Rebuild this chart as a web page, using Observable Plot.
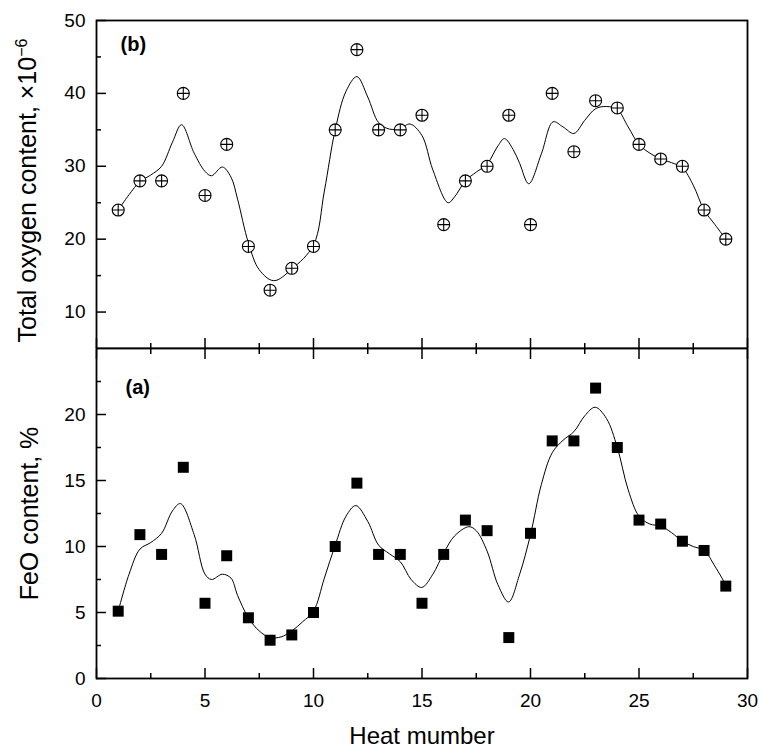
<!DOCTYPE html>
<html><head><meta charset="utf-8">
<script src="https://cdn.jsdelivr.net/npm/d3@7"></script>
<script src="https://cdn.jsdelivr.net/npm/@observablehq/plot@0.6"></script>
<style>
body{margin:0;background:#fff;}
#chart{position:relative;width:760px;height:749px;background:#fff;}
#chart svg{position:absolute;left:0;display:block;overflow:visible;}
</style></head><body><div id="chart"></div>
<script>
// ---- data ----
const heat = [1,2,3,4,5,6,7,8,9,10,11,12,13,14,15,16,17,18,19,20,21,22,23,24,25,26,27,28,29];
const oxygen = [24,28,28,40,26,33,19,13,16,19,35,46,35,35,37,22,28,30,37,22,40,32,39,38,33,31,30,24,20];
const feo = [5.1,10.9,9.4,16,5.7,9.3,4.6,2.9,3.3,5,10,14.8,9.4,9.4,5.7,9.4,12,11.2,3.1,11,18,18,22,17.5,12,11.7,10.4,9.7,7];

const oxCurveX = [1,1.5,2,2.5,3,3.5,3.92,4.5,5,5.3,5.8,6.2,6.5,7,7.5,8.17,9,10,10.5,11,11.5,12,12.5,13,13.5,14,14.45,15,15.5,16.2,16.5,17,17.5,18,18.5,18.8,19.2,19.5,19.92,20.5,21.04,21.5,22,22.5,23,23.5,24,24.5,25,25.5,26,26.5,27,27.5,28,28.5,29];
const oxCurveY = [24,26.1,27.9,28.8,30,33.3,35.7,31.8,29.3,28.7,29.9,28.5,25.5,19.5,15.8,14.3,15.9,19.2,26.6,35,40.3,42.3,39.5,36,35.1,35.2,35.8,34.2,29.5,25,25.8,28,29.2,30.3,32.8,33.8,32.3,30.4,27.6,31.7,36.1,35.4,34.5,36.3,37.9,38.2,37.8,35.4,33,31.8,31,30.5,29.8,27.4,24,22,20];

const feoCurveX = [1,1.5,2,2.5,3,3.5,3.87,4.5,5,5.3,5.8,6.2,6.5,7,7.5,8,8.5,9,9.5,10,10.5,11,11.5,11.95,12.5,13,13.5,14,14.5,14.99,15.5,16,16.5,17.16,17.5,18,18.5,18.99,19.5,20,20.5,21,21.5,22,22.5,22.98,23.5,24,24.5,25,25.5,26,26.5,27,27.5,28,28.5,29];
const feoCurveY = [5.1,7.9,9.8,10.3,11,12.7,13.25,10.9,7.9,7.5,7.9,7.6,6.3,4.6,3.6,3.1,3.15,3.6,4.3,5.1,7.6,10.1,12.3,13.1,11.9,10.1,9.45,8.85,7.5,6.9,7.9,9.5,10.8,11.5,11.2,9.65,7.1,5.8,7.9,10.9,14.7,17.1,18.05,18.7,19.9,20.55,19.7,17.5,14.3,12.3,11.7,11.55,11.05,10.4,10,9.7,8.5,7.1];

const xTicks = [0,5,10,15,20,25,30];
const xMinor = [2.5,7.5,12.5,17.5,22.5,27.5];
const oxTicks = [10,20,30,40,50];
const oxMinor = [15,25,35,45];
const feoTicks = [0,5,10,15,20];
const feoMinor = [2.5,7.5,12.5,17.5,22.5];

const oxLabel = "Total oxygen content, ×10";
const oxLabelSup = "−6";
const feoLabel = "FeO content, %";
const xLabel = "Heat mumber";

// ---- build ----
const oxPts = heat.map((h,i)=>({x:h,y:oxygen[i]}));
const feoPts = heat.map((h,i)=>({x:h,y:feo[i]}));
const oxLine = oxCurveX.map((x,i)=>({x, y:oxCurveY[i]}));
const feoLine = feoCurveX.map((x,i)=>({x, y:feoCurveY[i]}));

const circlePlus = {draw(ctx, size){
  const r = Math.sqrt(size/Math.PI);
  ctx.moveTo(r,0); ctx.arc(0,0,r,0,2*Math.PI);
  ctx.moveTo(-r,0); ctx.lineTo(r,0);
  ctx.moveTo(0,-r); ctx.lineTo(0,r);
}};

const fontFamily = "'Liberation Sans',Arial,sans-serif";
const style = {fontFamily, fontSize:"19px", color:"black", background:"white", overflow:"visible"};
const W = 760, ML = 96, MR = 13;

const topPlot = Plot.plot({
  width: W, height: 348, marginTop: 20, marginBottom: 0, marginLeft: ML, marginRight: MR,
  x: {domain:[0,30], label:null}, y: {domain:[5,50], label:null},
  style,
  marks: [
    Plot.axisY(oxTicks, {tickSize:-10, text:null, strokeWidth:1.5, label:null}),
    Plot.axisY(oxTicks, {tickSize:0, tickPadding:11, label:null, fontSize:19}),
    Plot.axisY(oxMinor, {tickSize:-5, text:null, strokeWidth:1.5, label:null}),
    Plot.axisX(xTicks, {anchor:"bottom", tickSize:-10, text:null, strokeWidth:1.5, label:null}),
    Plot.axisX(xMinor, {anchor:"bottom", tickSize:-5, text:null, strokeWidth:1.5, label:null}),
    Plot.line(oxLine, {x:"x", y:"y", curve:"catmull-rom", stroke:"black", strokeWidth:1}),
    Plot.dot(oxPts, {x:"x", y:"y", symbol: circlePlus, r:6, stroke:"black", fill:"white", strokeWidth:1.1}),
    Plot.frame({stroke:"black", strokeWidth:1.8}),
    Plot.text(["(b)"], {frameAnchor:"top-left", dx:24, dy:24, text:d=>d, fontWeight:"bold", fontSize:20, textAnchor:"start", lineAnchor:"middle"}),
    Plot.text([oxLabel], {frameAnchor:"left", dx:-69, dy:6, rotate:-90, text:d=>d, fontSize:25, textAnchor:"middle", lineAnchor:"middle"})
  ]
});

const botPlot = Plot.plot({
  width: W, height: 401, marginTop: 0, marginBottom: 71, marginLeft: ML, marginRight: MR,
  x: {domain:[0,30], label:null}, y: {domain:[0,25], label:null},
  style,
  marks: [
    Plot.axisY(feoTicks, {tickSize:-10, text:null, strokeWidth:1.5, label:null}),
    Plot.axisY(feoTicks, {tickSize:0, tickPadding:11, label:null, fontSize:19}),
    Plot.axisY(feoMinor, {tickSize:-5, text:null, strokeWidth:1.5, label:null}),
    Plot.axisX(xTicks, {anchor:"top", tickSize:-10, text:null, strokeWidth:1.5, label:null}),
    Plot.axisX(xMinor, {anchor:"top", tickSize:-5, text:null, strokeWidth:1.5, label:null}),
    Plot.axisX(xTicks, {anchor:"bottom", tickSize:-10, text:null, strokeWidth:1.5, label:null}),
    Plot.axisX(xMinor, {anchor:"bottom", tickSize:-5, text:null, strokeWidth:1.5, label:null}),
    Plot.axisX(xTicks, {anchor:"bottom", tickSize:0, tickPadding:15, label:null, fontSize:19}),
    Plot.line(feoLine, {x:"x", y:"y", curve:"catmull-rom", stroke:"black", strokeWidth:1}),
    Plot.dot(feoPts, {x:"x", y:"y", symbol:"square", r:6.2, fill:"black", stroke:"none"}),
    Plot.frame({stroke:"black", strokeWidth:1.8}),
    Plot.text(["(a)"], {frameAnchor:"top-left", dx:29, dy:39, text:d=>d, fontWeight:"bold", fontSize:20, textAnchor:"start", lineAnchor:"middle"}),
    Plot.text([feoLabel], {frameAnchor:"left", dx:-67, rotate:-90, text:d=>d, fontSize:25, textAnchor:"middle", lineAnchor:"middle"}),
    Plot.text([xLabel], {frameAnchor:"bottom", dy:58, text:d=>d, fontSize:24, textAnchor:"middle", lineAnchor:"middle"})
  ]
});

// superscript on the oxygen label
for (const t of topPlot.querySelectorAll("text")) {
  if (t.textContent === oxLabel) {
    const sup = document.createElementNS("http://www.w3.org/2000/svg", "tspan");
    sup.setAttribute("dy", "-0.55em");
    sup.setAttribute("font-size", "16");
    sup.textContent = oxLabelSup;
    t.appendChild(sup);
  }
}

const chart = document.getElementById("chart");
topPlot.style.top = "0px";
botPlot.style.top = "348px";
chart.appendChild(topPlot);
chart.appendChild(botPlot);
</script></body></html>
